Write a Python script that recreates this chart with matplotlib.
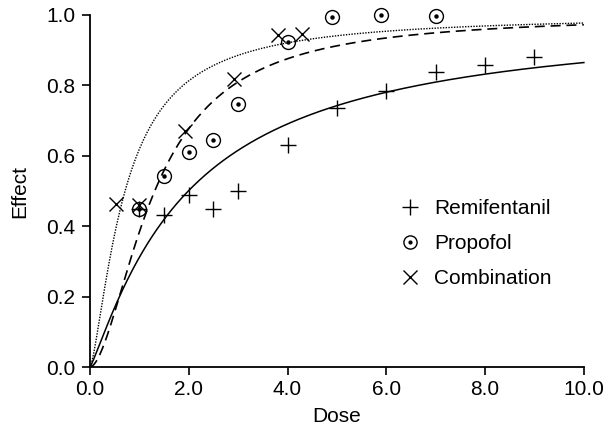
import numpy as np
import matplotlib
matplotlib.use("Agg")
import matplotlib.pyplot as plt
from matplotlib.lines import Line2D

plt.rcParams['font.family'] = ['Liberation Sans', 'DejaVu Sans']

# Observed data
remi_dose = [1.0, 1.5, 2.0, 2.5, 3.0, 4.0, 5.0, 6.0, 7.0, 8.0, 9.0]
remi_eff = [0.45, 0.433, 0.49, 0.45, 0.50, 0.632, 0.735, 0.783, 0.838, 0.857, 0.88]

prop_dose = [1.0, 1.5, 2.0, 2.5, 3.0, 4.0, 4.9, 5.9, 7.0]
prop_eff = [0.45, 0.544, 0.61, 0.646, 0.746, 0.923, 0.995, 1.0, 0.998]

comb_dose = [0.53, 1.0, 1.92, 2.91, 3.8, 4.3]
comb_eff = [0.464, 0.459, 0.67, 0.818, 0.943, 0.946]

# Fitted Hill (Emax) model parameters: EC50, gamma
remi_fit = [1.99, 1.15]
prop_fit = [1.31, 1.75]
comb_fit = [0.71, 1.42]

xticks = [0, 2, 4, 6, 8, 10]
xticklabels = ['0.0', '2.0', '4.0', '6.0', '8.0', '10.0']
yticks = [0, 0.2, 0.4, 0.6, 0.8, 1.0]
yticklabels = ['0.0', '0.2', '0.4', '0.6', '0.8', '1.0']


def hill(d, p):
    d = np.asarray(d, dtype=float)
    r = (d / p[0]) ** p[1]
    return r / (1 + r)


FS = 15

fig = plt.figure(figsize=(6.06, 4.37), dpi=100)
ax = fig.add_axes([0.1485, 0.160, 0.815, 0.8057])

xs = np.linspace(0, 10, 400)
ax.plot(xs, hill(xs, remi_fit), color='black', lw=1.1, ls='-', clip_on=False)
ax.plot(xs, hill(xs, prop_fit), color='black', lw=1.2, ls=(0, (6, 3.5)), clip_on=False)
ax.plot(xs, hill(xs, comb_fit), color='black', lw=1.0, ls=(0, (1, 1)), clip_on=False)

ax.plot(remi_dose, remi_eff, ls='none', marker='+', ms=12, mew=1.0, color='black', clip_on=False)
ax.plot(prop_dose, prop_eff, ls='none', marker='o', ms=10, mew=1.0, mfc='none', mec='black', clip_on=False)
ax.plot(prop_dose, prop_eff, ls='none', marker='o', ms=3.2, mew=0, color='black', clip_on=False)
ax.plot(comb_dose, comb_eff, ls='none', marker='x', ms=10, mew=1.0, color='black', clip_on=False)

ax.set_xlim(0, 10)
ax.set_ylim(0, 1.0)
ax.set_xticks(xticks)
ax.set_xticklabels(xticklabels)
ax.set_yticks(yticks)
ax.set_yticklabels(yticklabels)
for s in ['top', 'right']:
    ax.spines[s].set_visible(False)
for s in ['left', 'bottom']:
    ax.spines[s].set_linewidth(1.3)
ax.tick_params(direction='out', length=6, width=1.2, labelsize=FS)
ax.tick_params(axis='x', pad=3)
ax.tick_params(axis='y', pad=4.5)
ax.set_xlabel('Dose', fontsize=FS, labelpad=6)
ax.set_ylabel('Effect', fontsize=FS, labelpad=12)

h1 = Line2D([], [], ls='none', marker='+', ms=11, mew=1.0, color='black')
h2a = Line2D([], [], ls='none', marker='o', ms=9.5, mew=1.0, mfc='none', mec='black')
h2b = Line2D([], [], ls='none', marker='o', ms=3, mew=0, color='black')
h3 = Line2D([], [], ls='none', marker='x', ms=9.5, mew=1.0, color='black')
ax.legend([h1, (h2a, h2b), h3], ['Remifentanil', 'Propofol', 'Combination'],
          loc='upper left', bbox_to_anchor=(0.627, 0.476), frameon=False,
          fontsize=FS, handlelength=1.0, handletextpad=0.67, labelspacing=0.76,
          borderaxespad=0, borderpad=0)

fig.savefig('out.png', dpi=100)
